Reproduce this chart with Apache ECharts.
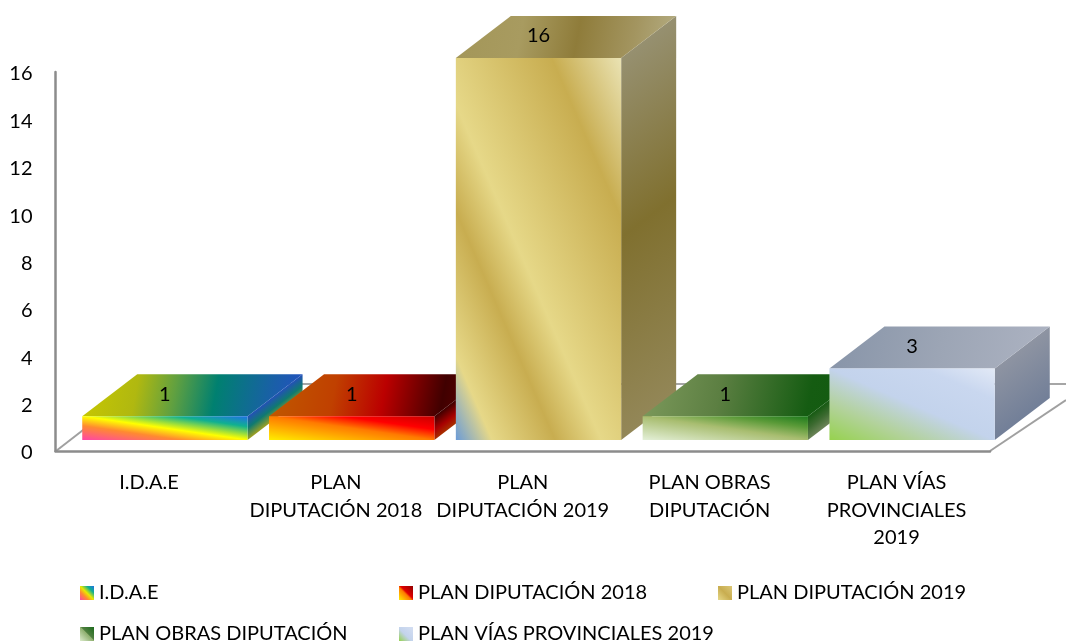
<!DOCTYPE html>
<html>
<head>
<meta charset="utf-8">
<style>
  html, body { margin: 0; padding: 0; background: #fff; }
  #chart { width: 1066px; height: 644px; }
</style>
<script src="https://cdn.jsdelivr.net/npm/echarts@6/dist/echarts.min.js"></script>
</head>
<body>
<div id="chart"></div>
<script>
const categories = ["I.D.A.E", "PLAN DIPUTACIÓN 2018", "PLAN DIPUTACIÓN 2019", "PLAN OBRAS DIPUTACIÓN", "PLAN VÍAS PROVINCIALES 2019"];
const axisLabels = ["I.D.A.E", "PLAN\nDIPUTACIÓN 2018", "PLAN\nDIPUTACIÓN 2019", "PLAN OBRAS\nDIPUTACIÓN", "PLAN VÍAS\nPROVINCIALES\n2019"];
const values = [1, 1, 16, 1, 3];
const yTicks = { min: 0, max: 16, interval: 2 };

// gradient stops per bar: [offset, colour]
const frontStops = [
  [[0, "#ff45a8"], [0.3, "#ff8a30"], [0.5, "#ffff00"], [0.78, "#10b090"], [1, "#1f6fe6"]],
  [[0, "#ffee00"], [0.5, "#ff7a00"], [0.72, "#ff0000"], [1, "#c80000"]],
  [[0, "#6a9bd8"], [0.11, "#e6d888"], [0.3, "#c8ad50"], [0.44, "#e6d888"], [0.79, "#c8ad50"], [1, "#eae3b4"]],
  [[0, "#e4f0d8"], [0.5, "#a8bd70"], [0.76, "#5a9a38"], [1, "#1c7a1c"]],
  [[0, "#96d24e"], [0.25, "#b2d29a"], [0.5, "#c3d3ec"], [0.78, "#c9d7ef"], [1, "#e2e9f6"]]
];
const topStops = [
  [[0, "#c8c800"], [0.25, "#b0b810"], [0.42, "#60a040"], [0.6, "#008070"], [0.85, "#1a5fa8"], [1, "#2450c4"]],
  [[0, "#c05a00"], [0.3, "#c04000"], [0.52, "#bb0000"], [0.78, "#400000"], [1, "#700000"]],
  [[0, "#a39658"], [0.3, "#a89b60"], [0.55, "#8f7c3a"], [0.8, "#a39560"], [1, "#b5ae84"]],
  [[0, "#7d9a5c"], [0.35, "#5c7f42"], [0.75, "#155c12"], [1, "#125a0f"]],
  [[0, "#8794a8"], [0.5, "#9ca5b5"], [1, "#adb3c2"]]
];
const sideStops = [
  [[0, "#2450b8"], [0.5, "#0f7a70"], [1, "#a0a020"]],
  [[0, "#3c0000"], [0.6, "#a80000"], [1, "#a83000"]],
  [[0, "#969070"], [0.47, "#80702f"], [1, "#938758"]],
  [[0, "#165a12"], [0.5, "#3c6a30"], [1, "#6c8458"]],
  [[0, "#8e94a2"], [1, "#727f98"]]
];
const legendStops = [
  [[0, "#ff45a8"], [0.3, "#ff8a30"], [0.5, "#e8e800"], [0.75, "#10b090"], [1, "#1f6fe6"]],
  [[0, "#ffee00"], [0.45, "#ff7a00"], [0.55, "#e00000"], [1, "#900000"]],
  [[0, "#e6d888"], [0.5, "#c8ad50"], [1, "#dcc878"]],
  [[0, "#dcebcc"], [0.5, "#8fb070"], [0.55, "#4f7f3f"], [1, "#1c6a1c"]],
  [[0, "#96d24e"], [0.45, "#c3d3ec"], [1, "#d4def2"]]
];

const FONT = "Lato";
const FONT_SIZE = 20;
const DEPTH_X = 55;
const DEPTH_Y = 42;
const BAR_RATIO = 0.885;

const LEGEND_COLS = [80, 399, 718];
const LEGEND_ROWS = [583, 624];

function stopsOf(stops) {
  return stops.map((s) => ({ offset: s[0], color: s[1] }));
}
function gradient(x, y, x2, y2, stops) {
  return { type: "linear", x, y, x2, y2, colorStops: stopsOf(stops) };
}
// gradient whose colour bands run along the top-left/bottom-right diagonal of the box
function diagGradient(w, h, stops) {
  const l2 = w * w + h * h;
  const fx = (h * h) / l2;
  const fy = (w * w) / l2;
  return gradient(0.5 - fx, 0.5 + fy, 0.5 + fx, 0.5 - fy, stops);
}
// side face: colour bands run parallel to its slanted top edge
function sideGradient(h, stops) {
  const boxH = h + DEPTH_Y;
  const len = Math.hypot(DEPTH_X, DEPTH_Y);
  const nx = DEPTH_Y / len;
  const ny = DEPTH_X / len;
  const dist = h * ny;
  const sx = DEPTH_X / 2;
  const sy = DEPTH_Y / 2;
  return gradient(sx / DEPTH_X, sy / boxH, (sx + nx * dist) / DEPTH_X, (sy + ny * dist) / boxH, stops);
}

const renderBar = (idx) => (params, api) => {
  const base = api.coord([api.value(0), 0]);
  const top = api.coord([api.value(0), api.value(1)]);
  const w = api.size([1, 0])[0] * BAR_RATIO;
  const l = base[0] - w / 2;
  const r = base[0] + w / 2;
  const t = top[1];
  const b = base[1];
  return {
    type: "group",
    children: [
      {
        type: "polygon",
        shape: { points: [[r, t], [r + DEPTH_X, t - DEPTH_Y], [r + DEPTH_X, b - DEPTH_Y], [r, b]] },
        style: { fill: sideGradient(b - t, sideStops[idx]) }
      },
      {
        type: "polygon",
        shape: { points: [[l, t], [l + DEPTH_X, t - DEPTH_Y], [r + DEPTH_X, t - DEPTH_Y], [r, t]] },
        style: { fill: gradient(0, 0, 1, 1, topStops[idx]) }
      },
      {
        type: "rect",
        shape: { x: l, y: t, width: w, height: b - t },
        style: { fill: diagGradient(w, b - t, frontStops[idx]) }
      },
      {
        type: "text",
        style: {
          x: base[0], y: t - 22, text: String(api.value(1)),
          align: "center", verticalAlign: "middle",
          font: FONT_SIZE + "px " + FONT, fill: "#000"
        }
      }
    ]
  };
};

const chart = echarts.init(document.getElementById("chart"));

const legendPos = [[0, 0], [1, 0], [2, 0], [0, 1], [1, 1]];

const option = {
  animation: false,
  backgroundColor: "#fff",
  textStyle: { fontFamily: FONT },
  grid: [
    { left: 55.5, top: 72, width: 934.5, height: 379 },
    { left: 71.5, top: 58, width: 934, height: 382 }
  ],
  xAxis: [
    {
      type: "category", gridIndex: 0, data: axisLabels,
      axisTick: { show: false },
      axisLine: { lineStyle: { color: "#8c8c8c", width: 2.5 } },
      axisLabel: { interval: 0, color: "#000", fontSize: FONT_SIZE, fontFamily: FONT, lineHeight: 27.5, margin: 18 }
    },
    { type: "category", gridIndex: 1, data: categories, show: false }
  ],
  yAxis: [
    {
      type: "value", gridIndex: 0, min: yTicks.min, max: yTicks.max, interval: yTicks.interval,
      splitLine: { show: false },
      axisTick: { show: false },
      axisLine: { show: true, lineStyle: { color: "#8c8c8c", width: 2.5 } },
      // thin line box so the numbers sit just under their tick, as in the reference
      axisLabel: { color: "#000", fontSize: FONT_SIZE, fontFamily: FONT, margin: 23, verticalAlign: "top", lineHeight: 4 }
    },
    { type: "value", gridIndex: 1, min: yTicks.min, max: yTicks.max, show: false }
  ],
  legend: categories.map((name, i) => ({
    left: LEGEND_COLS[legendPos[i][0]],
    top: LEGEND_ROWS[legendPos[i][1]],
    padding: 0,
    icon: "rect",
    itemWidth: 14,
    itemHeight: 14,
    textStyle: { color: "#000", fontSize: FONT_SIZE, fontFamily: FONT },
    data: [{ name, itemStyle: { color: gradient(0, 1, 1, 0, legendStops[i]) } }]
  })),
  // floor of the 3D box
  graphic: [
    { type: "polyline", z: -1, silent: true, shape: { points: [[56, 451], [96, 420]] }, style: { stroke: "#a0a0a0", lineWidth: 2 } },
    { type: "polyline", z: -1, silent: true, shape: { points: [[990, 451], [1066, 400]] }, style: { stroke: "#a0a0a0", lineWidth: 2 } },
    { type: "polyline", z: -1, silent: true, shape: { points: [[144, 384], [1066, 384]] }, style: { stroke: "#a6a6a6", lineWidth: 2 } }
  ],
  series: categories.map((name, i) => ({
    name,
    type: "custom",
    xAxisIndex: 1,
    yAxisIndex: 1,
    clip: false,
    renderItem: renderBar(i),
    encode: { x: 0, y: 1 },
    data: [[i, values[i]]]
  }))
};

chart.setOption(option);
</script>
</body>
</html>
